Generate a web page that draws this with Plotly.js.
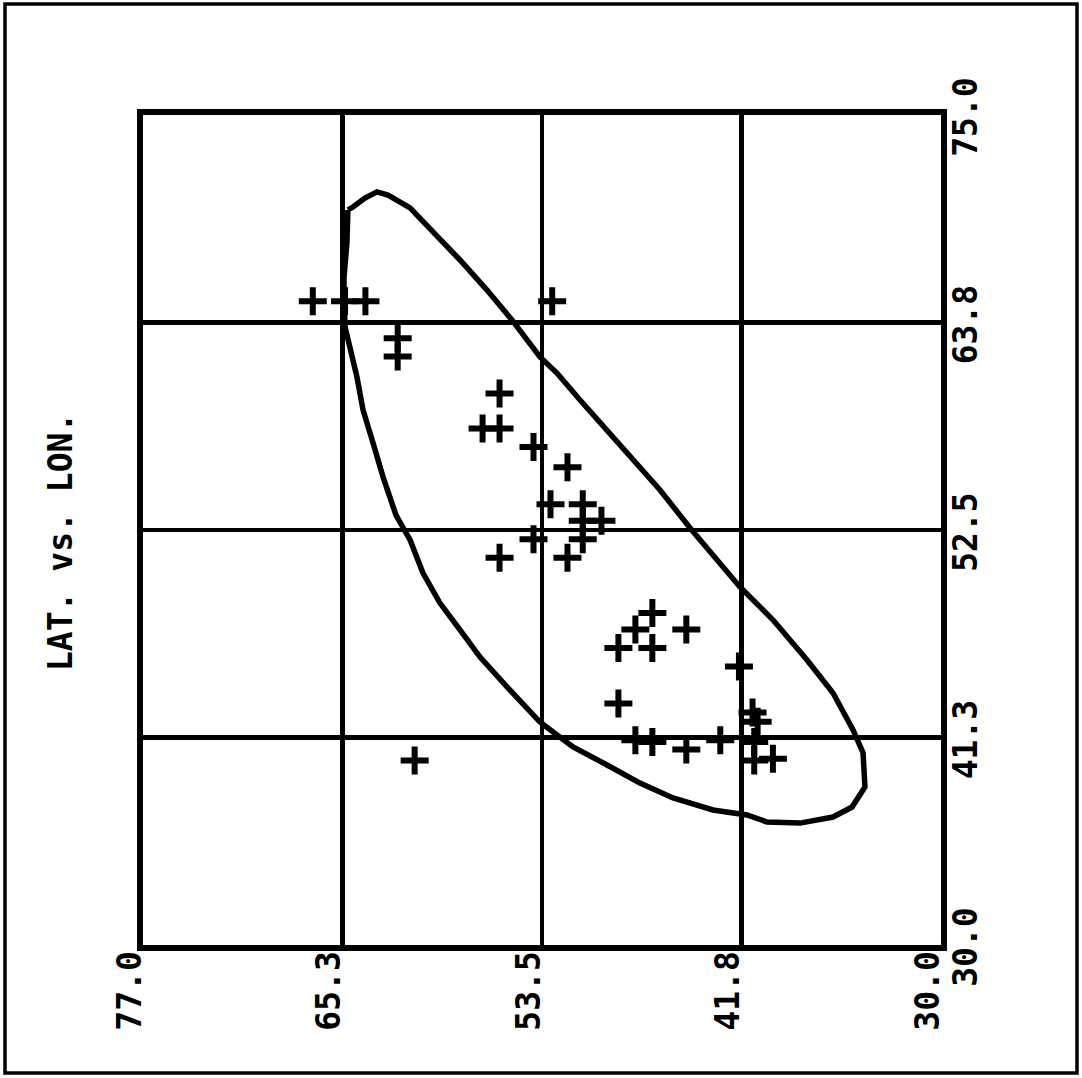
<!DOCTYPE html>
<html>
<head>
<meta charset="utf-8">
<script src="https://cdn.plot.ly/plotly-3.0.1.min.js"></script>
<style>
  html, body { margin: 0; padding: 0; background: #ffffff; }
  #chart { width: 1082px; height: 1078px; }
</style>
</head>
<body>
<div id="chart"></div>
<script>
// Station positions: latitude and longitude of each observation
const stationLat = [67.0, 65.1, 63.9, 52.9, 62.0, 62.0, 56.0, 57.0, 56.0, 54.0,
                    52.0, 53.0, 51.1, 51.1, 50.0, 51.1, 54.0, 56.0, 52.0, 47.0,
                    48.0, 45.0, 49.0, 47.0, 41.9, 49.0, 41.1, 40.8, 48.0, 47.0,
                    45.0, 43.0, 41.0, 41.0, 39.9, 61.0];
const stationLon = [64.9, 64.9, 64.9, 64.9, 62.9, 61.9, 59.9, 58.0, 58.0, 57.0,
                    55.9, 53.9, 53.9, 53.0, 53.0, 52.0, 52.0, 51.0, 51.0, 48.0,
                    47.1, 47.1, 46.1, 46.1, 45.1, 43.1, 42.6, 42.1, 41.1, 41.0,
                    40.6, 41.1, 41.0, 40.0, 40.1, 40.0];

// Closed boundary enclosing the stations
const boundaryLat = [64.93, 64.63, 63.93, 63.22, 62.57, 61.27, 59.92, 58.33, 56.74, 55.27,
                     53.62, 52.62, 51.26, 49.67, 48.14, 46.55, 44.78, 41.84, 39.89, 37.89,
                     36.36, 35.18, 34.59, 34.48, 35.24, 36.36, 38.30, 40.25, 41.43, 43.43,
                     45.78, 47.73, 49.67, 51.67, 52.85, 53.62, 55.56, 57.15, 58.33, 59.51,
                     60.51, 61.27, 62.10, 62.86, 63.45, 64.04, 64.40, 64.81, 65.10, 65.16,
                     65.16, 64.99, 64.93];
const boundaryLon = [69.85, 70.01, 70.50, 70.83, 70.66, 69.96, 68.66, 67.14, 65.51, 63.89,
                     61.88, 61.01, 59.55, 57.92, 56.30, 54.67, 52.61, 49.41, 47.62, 45.45,
                     43.66, 41.66, 40.41, 38.57, 37.48, 36.94, 36.61, 36.67, 37.05, 37.32,
                     37.97, 38.78, 39.76, 40.74, 41.55, 42.09, 43.99, 45.61, 47.08, 48.54,
                     50.17, 51.96, 53.31, 55.37, 57.22, 59.01, 60.80, 62.26, 63.51, 64.97,
                     66.22, 68.06, 69.85];

// Axis ticks
const latTicks = [30, 41.75, 53.5, 65.25, 77];
const lonTicks = [30, 41.25, 52.5, 63.75, 75];
const chartTitle = 'LAT. vs. LON.';

const ink = '#000000';
const labelFont = { family: 'DejaVu Sans Mono', size: 33, color: ink, weight: 'bold' };

const traces = [
  {
    type: 'scatter', mode: 'lines',
    x: boundaryLat, y: boundaryLon,
    line: { color: ink, width: 5.5 },
    hoverinfo: 'skip'
  },
  {
    type: 'scatter', mode: 'markers',
    x: stationLat, y: stationLon,
    marker: { symbol: 'cross-thin-open', size: 20, color: ink, line: { color: ink, width: 6 } }
  }
];

const axisCommon = {
  tickformat: '.1f',
  tickangle: -90,
  tickfont: labelFont,
  showgrid: true,
  gridcolor: ink,
  gridwidth: 4.5,
  zeroline: false,
  showline: true,
  linecolor: ink,
  linewidth: 6,
  mirror: true,
  ticks: ''
};

const layout = {
  width: 1082,
  height: 1078,
  margin: { l: 143, r: 141, t: 115, b: 133, pad: 0 },
  paper_bgcolor: '#ffffff',
  plot_bgcolor: '#ffffff',
  showlegend: false,
  font: { family: 'DejaVu Sans Mono', color: ink },
  xaxis: Object.assign({}, axisCommon, {
    range: [77, 30],
    tickvals: latTicks,
    ticklabelshift: 13,
    ticklabelstandoff: -13
  }),
  yaxis: Object.assign({}, axisCommon, {
    range: [30, 75],
    tickvals: lonTicks,
    side: 'right',
    ticklabelshift: 7,
    ticklabelstandoff: -10
  }),
  annotations: [{
    text: chartTitle,
    textangle: -90,
    xref: 'paper', yref: 'paper',
    x: (60 - 143) / 798, y: (945 - 542) / 830,
    xanchor: 'center', yanchor: 'middle',
    showarrow: false,
    font: labelFont
  }],
  shapes: [{
    type: 'rect', xref: 'paper', yref: 'paper',
    x0: (5 - 143) / 798, x1: (1077 - 143) / 798,
    y0: (945 - 1073) / 830, y1: (945 - 4) / 830,
    line: { color: ink, width: 3.5 },
    layer: 'below'
  }]
};

Plotly.newPlot('chart', traces, layout, { displayModeBar: false, staticPlot: true });
</script>
</body>
</html>
